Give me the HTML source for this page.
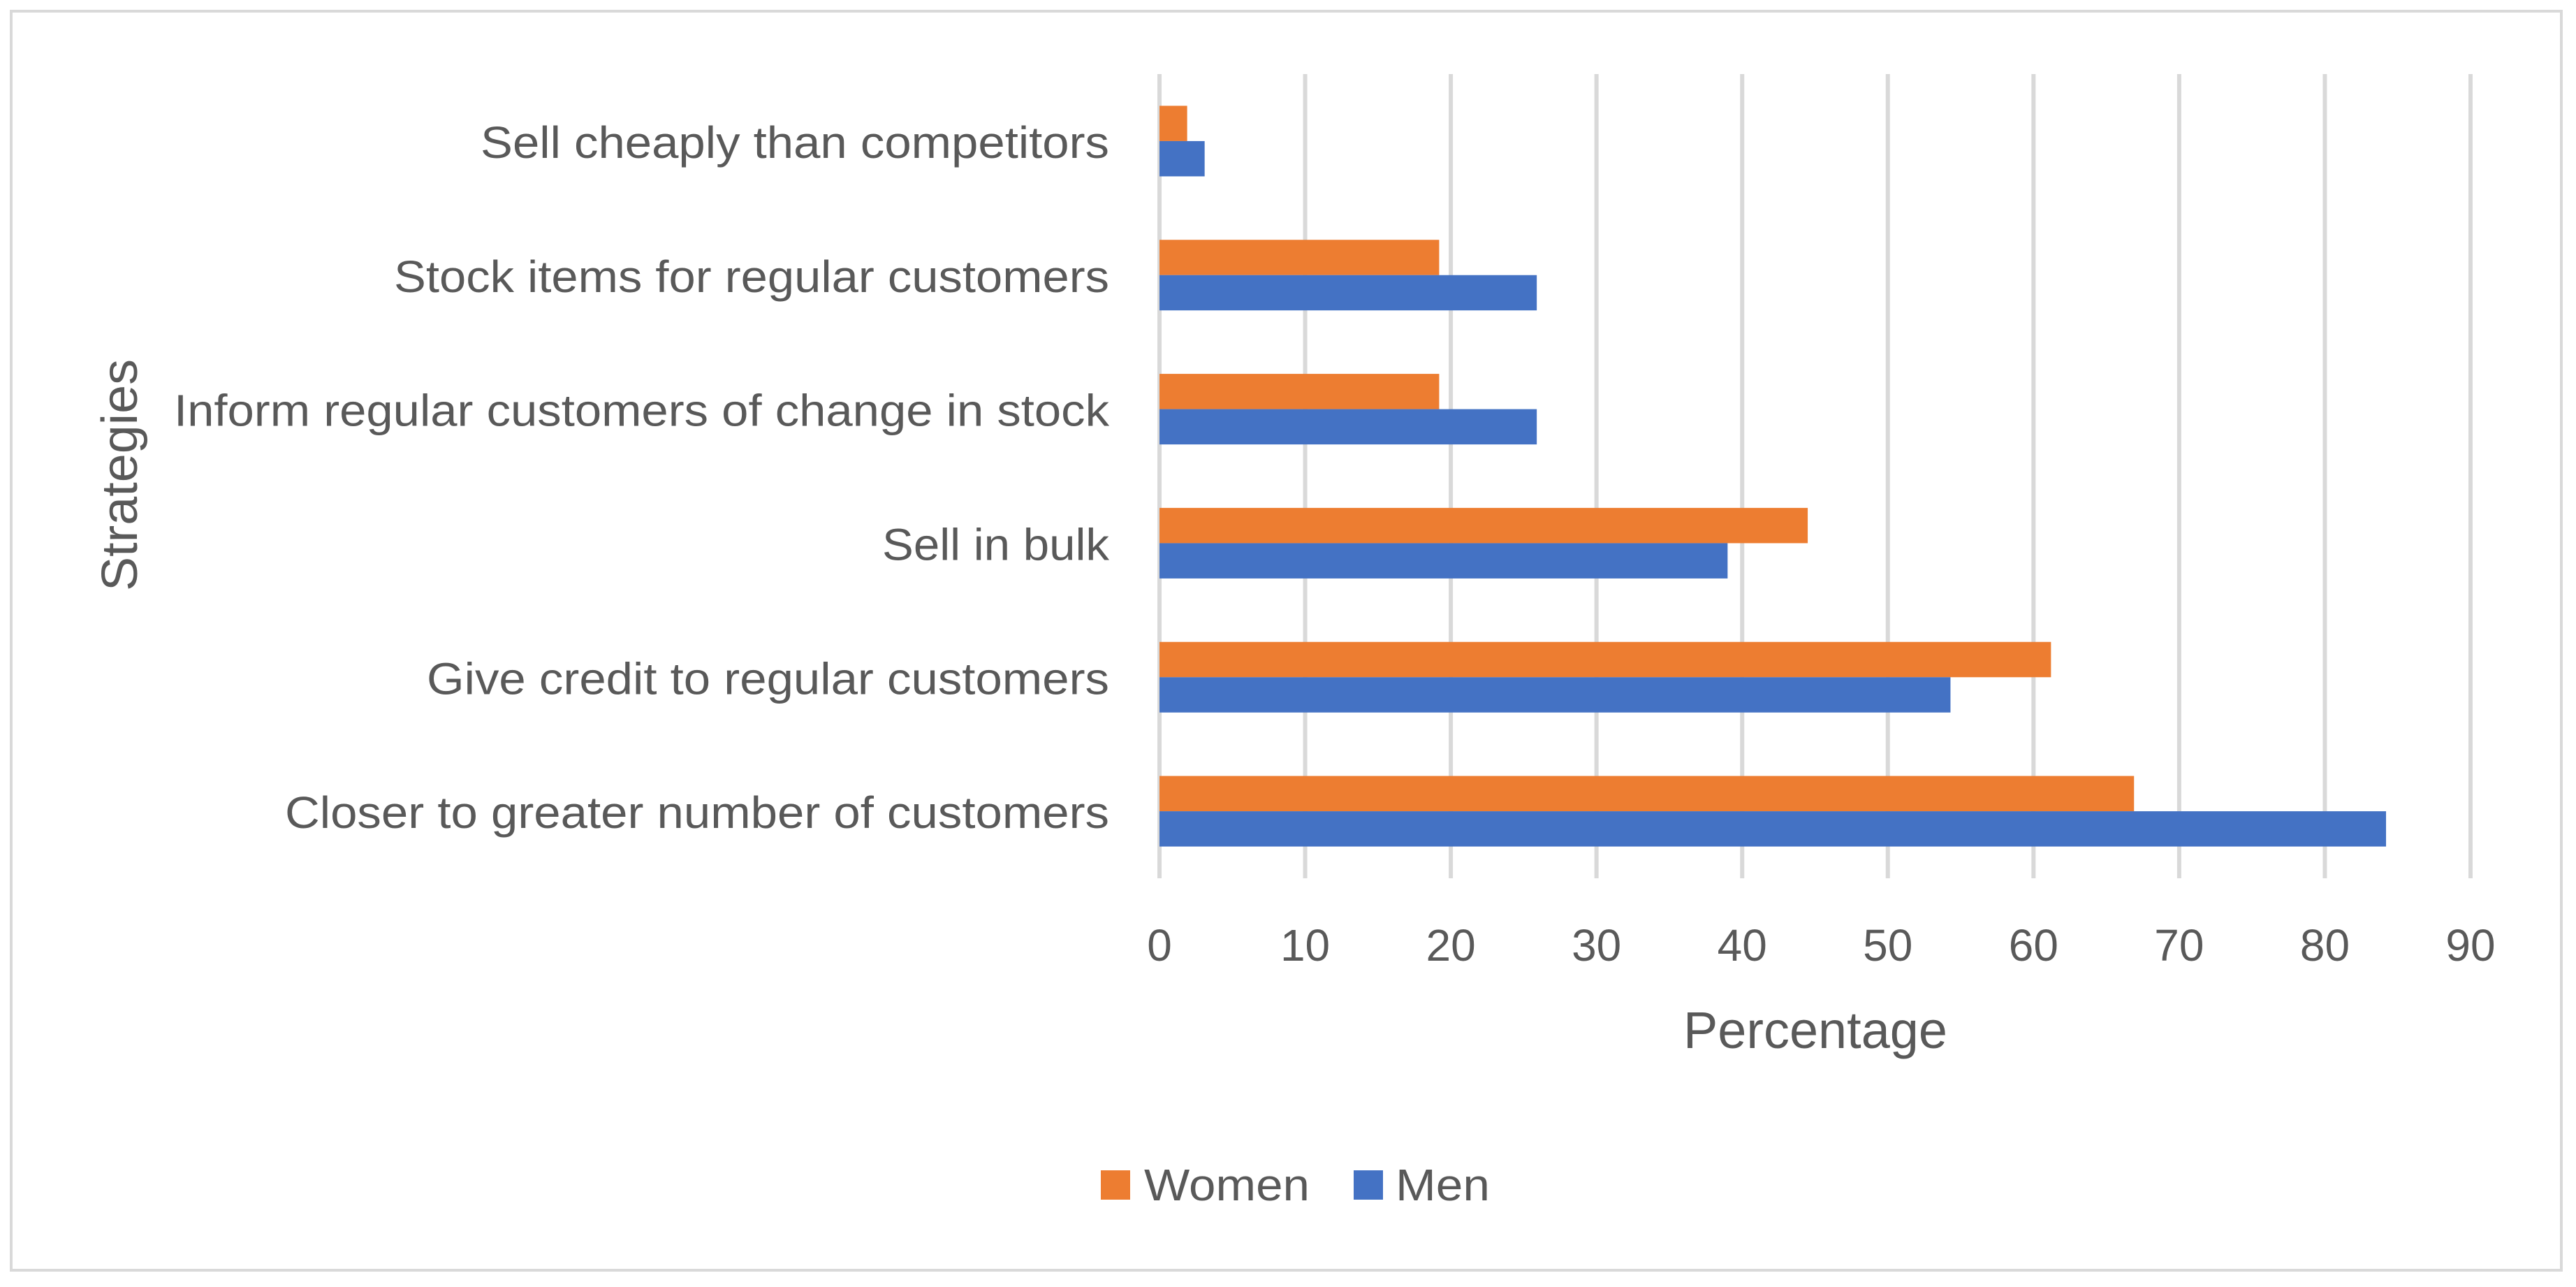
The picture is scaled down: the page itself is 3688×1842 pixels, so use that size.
<!DOCTYPE html>
<html><head><meta charset="utf-8"><style>
html,body{margin:0;padding:0;background:#fff;}
svg{display:block;font-family:"Liberation Sans",sans-serif;}
</style></head><body>
<svg id="chart" width="3688" height="1842" viewBox="0 0 3688 1842" xmlns="http://www.w3.org/2000/svg">
<rect x="16" y="16" width="3651" height="1802" fill="#fff" stroke="#d9d9d9" stroke-width="4"/>
<g id="grid"></g>
<g id="bars"></g>
<g id="ylabels"></g>
<g id="xlabels"></g>
<text x="2599" y="1500" font-size="74" fill="#595959" text-anchor="middle" textLength="378" lengthAdjust="spacingAndGlyphs">Percentage</text>
<text transform="translate(196,680) rotate(-90)" font-size="72" fill="#595959" text-anchor="middle" textLength="332" lengthAdjust="spacingAndGlyphs">Strategies</text>
<g>
<rect x="1576" y="1675" width="42" height="42" fill="#ED7D31"/>
<text x="1638" y="1718" font-size="64" fill="#595959" textLength="237" lengthAdjust="spacingAndGlyphs">Women</text>
<rect x="1938" y="1675" width="42" height="42" fill="#4472C4"/>
<text x="1998" y="1718" font-size="64" fill="#595959" textLength="135" lengthAdjust="spacingAndGlyphs">Men</text>
</g>
</svg>
<script>
const categories = ["Sell cheaply than competitors","Stock items for regular customers","Inform regular customers of change in stock","Sell in bulk","Give credit to regular customers","Closer to greater number of customers"];
const women = [1.9, 19.2, 19.2, 44.5, 61.2, 66.9];
const men = [3.1, 25.9, 25.9, 39.0, 54.3, 84.2];
const xTicks = [0,10,20,30,40,50,60,70,80,90];
const labelWidths = [900, 1024, 1339, 325, 977, 1180];

const NS = "http://www.w3.org/2000/svg";
const X0 = 1660, X1 = 3537, XMAX = 90;
const YTOP = 106, YBOT = 1257;
const band = (YBOT - YTOP) / categories.length;
const barH = 50.5;
function xs(v){ return X0 + (v / XMAX) * (X1 - X0); }
function yc(i){ return YTOP + band * (i + 0.5); }
function mk(tag, attrs, parent){
  const e = document.createElementNS(NS, tag);
  for (const k in attrs) e.setAttribute(k, attrs[k]);
  parent.appendChild(e);
  return e;
}
const grid = document.getElementById('grid');
const xl = document.getElementById('xlabels');
xTicks.forEach(t => {
  const l = mk('line', {x1: xs(t), x2: xs(t), y1: YTOP, y2: YBOT, stroke: '#d9d9d9', 'stroke-width': 6}, grid);
  
  
  const tx = mk('text', {x: xs(t), y: 1375, 'font-size': 64, fill: '#595959', 'text-anchor': 'middle'}, xl);
  tx.textContent = String(t);
  
  
});
const bars = document.getElementById('bars');
const yl = document.getElementById('ylabels');
categories.forEach((c, i) => {
  const cy = yc(i);
  const bw = mk('rect', {x: xs(0), y: cy - barH, width: xs(women[i]) - xs(0), height: barH, fill: '#ED7D31'}, bars);
  
  
  const bm = mk('rect', {x: xs(0), y: cy, width: xs(men[i]) - xs(0), height: barH, fill: '#4472C4'}, bars);
  
  
  const t = mk('text', {x: 1588, y: cy + 24, 'font-size': 64, fill: '#595959', 'text-anchor': 'end', textLength: labelWidths[i], lengthAdjust: 'spacingAndGlyphs'}, yl);
  t.textContent = c;
  
  
});
</script>
</body></html>
